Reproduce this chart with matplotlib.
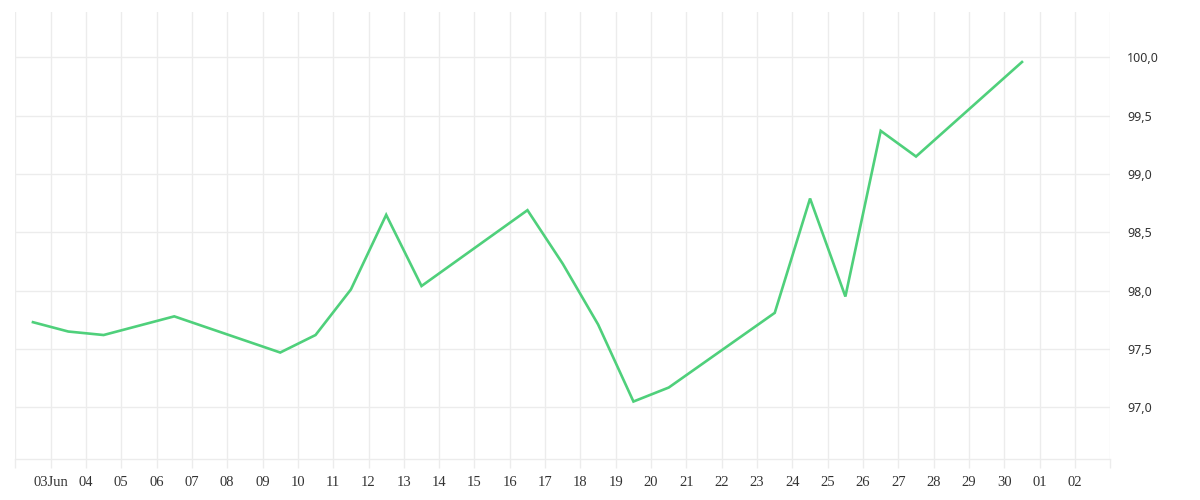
import matplotlib
matplotlib.use("Agg")
import matplotlib.pyplot as plt
import pandas as pd

# daily closes (weekdays only), June 2025
days = ["2025-06-02", "2025-06-03", "2025-06-04", "2025-06-05", "2025-06-06",
        "2025-06-09", "2025-06-10", "2025-06-11", "2025-06-12", "2025-06-13",
        "2025-06-16", "2025-06-17", "2025-06-18", "2025-06-19", "2025-06-20",
        "2025-06-23", "2025-06-24", "2025-06-25", "2025-06-26", "2025-06-27",
        "2025-06-30"]
values = [97.73, 97.65, 97.62, 97.70, 97.78,
          97.47, 97.62, 98.01, 98.65, 98.04,
          98.69, 98.23, 97.71, 97.05, 97.17,
          97.81, 98.79, 97.95, 99.37, 99.15,
          99.96]
y_ticks = [97.0, 97.5, 98.0, 98.5, 99.0, 99.5, 100.0]

grid_col = "#ececec"
line_col = "#4fd07b"
text_col = "#333333"

x = pd.to_datetime(days) + pd.Timedelta(hours=12)
tick_days = pd.date_range("2025-06-02", "2025-07-03", freq="D")

fig = plt.figure(figsize=(12, 5), dpi=100)
ax = fig.add_axes([0.01275, 0.0826, 0.9125, 0.8928])

ax.plot(x, values, color=line_col, linewidth=1.9, solid_joinstyle="miter")

ax.set_xlim(tick_days[0], tick_days[-1])
ax.set_ylim(96.56, 100.386)

ax.set_xticks(tick_days)
labels = []
for i, d in enumerate(tick_days):
    if i == 0 or i == len(tick_days) - 1:
        labels.append("")
    elif i == 1:
        labels.append(d.strftime("%d") + "Jun")
    else:
        labels.append(d.strftime("%d"))
ax.set_xticklabels(labels, family="Liberation Serif", fontsize=10.5, color=text_col)

ax.yaxis.tick_right()
ax.set_yticks(y_ticks)
ax.set_yticklabels([f"{v:.1f}".replace(".", ",") for v in y_ticks],
                   family="Noto Sans", fontsize=9, color=text_col)

ax.tick_params(axis="x", length=6.5, width=1, color=grid_col, pad=6)
ax.tick_params(axis="y", length=0, pad=12)

ax.grid(True, color=grid_col, linewidth=1)
ax.set_axisbelow(True)
for s in ["top", "left", "right"]:
    ax.spines[s].set_visible(False)
ax.spines["bottom"].set_color(grid_col)
ax.spines["bottom"].set_linewidth(1)

fig.savefig("out.png", dpi=100, facecolor="white")
